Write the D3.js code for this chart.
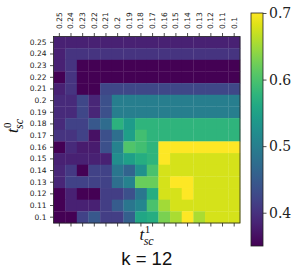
<!DOCTYPE html>
<html>
<head>
<meta charset="utf-8">
<script src="https://cdn.jsdelivr.net/npm/d3@7"></script>
<style>
body { margin: 0; background: #fff; }
svg { display: block; }
</style>
</head>
<body>
<svg id="chart" width="299" height="275"></svg>
<script>
// t1 (columns, left -> right) and t0 (rows, top -> bottom)
var t1Labels = ["0.25", "0.24", "0.23", "0.22", "0.21", "0.2", "0.19", "0.18",
                "0.17", "0.16", "0.15", "0.14", "0.13", "0.12", "0.11", "0.1"];
var t0Labels = ["0.25", "0.24", "0.23", "0.22", "0.21", "0.2", "0.19", "0.18",
                "0.17", "0.16", "0.15", "0.14", "0.13", "0.12", "0.11", "0.1"];

// score per cell, one row per t0 value
var scores = [
    [0.382, 0.382, 0.382, 0.382, 0.382, 0.382, 0.382, 0.382, 0.382, 0.382, 0.382, 0.382, 0.382, 0.382, 0.382, 0.382],
    [0.382, 0.403, 0.403, 0.403, 0.403, 0.403, 0.403, 0.403, 0.403, 0.403, 0.403, 0.403, 0.403, 0.403, 0.403, 0.403],
    [0.382, 0.403, 0.35, 0.35, 0.35, 0.35, 0.35, 0.35, 0.35, 0.35, 0.35, 0.35, 0.35, 0.35, 0.35, 0.35],
    [0.35, 0.403, 0.35, 0.35, 0.35, 0.35, 0.35, 0.35, 0.35, 0.35, 0.35, 0.35, 0.35, 0.35, 0.35, 0.35],
    [0.382, 0.403, 0.35, 0.35, 0.424, 0.424, 0.424, 0.424, 0.424, 0.424, 0.424, 0.424, 0.424, 0.424, 0.424, 0.424],
    [0.392, 0.392, 0.424, 0.387, 0.435, 0.498, 0.498, 0.498, 0.498, 0.498, 0.498, 0.498, 0.498, 0.498, 0.498, 0.498],
    [0.392, 0.392, 0.424, 0.387, 0.435, 0.498, 0.498, 0.498, 0.498, 0.498, 0.498, 0.498, 0.498, 0.498, 0.498, 0.498],
    [0.392, 0.419, 0.419, 0.445, 0.472, 0.573, 0.541, 0.578, 0.578, 0.578, 0.578, 0.578, 0.578, 0.578, 0.578, 0.578],
    [0.403, 0.403, 0.419, 0.366, 0.435, 0.477, 0.546, 0.594, 0.578, 0.578, 0.578, 0.578, 0.578, 0.578, 0.578, 0.578],
    [0.35, 0.392, 0.377, 0.377, 0.435, 0.504, 0.604, 0.594, 0.578, 0.70, 0.70, 0.70, 0.70, 0.70, 0.70, 0.70],
    [0.382, 0.382, 0.382, 0.382, 0.382, 0.52, 0.546, 0.567, 0.578, 0.70, 0.677, 0.677, 0.677, 0.677, 0.677, 0.677],
    [0.387, 0.408, 0.35, 0.419, 0.419, 0.488, 0.461, 0.525, 0.599, 0.677, 0.677, 0.677, 0.677, 0.677, 0.677, 0.677],
    [0.387, 0.419, 0.419, 0.419, 0.419, 0.477, 0.504, 0.62, 0.62, 0.677, 0.70, 0.70, 0.677, 0.677, 0.677, 0.677],
    [0.35, 0.382, 0.35, 0.35, 0.414, 0.414, 0.435, 0.488, 0.567, 0.677, 0.677, 0.70, 0.677, 0.677, 0.677, 0.677],
    [0.35, 0.382, 0.382, 0.382, 0.414, 0.451, 0.488, 0.509, 0.599, 0.651, 0.677, 0.677, 0.677, 0.677, 0.677, 0.677],
    [0.35, 0.35, 0.419, 0.445, 0.414, 0.414, 0.456, 0.557, 0.567, 0.63, 0.655, 0.70, 0.655, 0.677, 0.677, 0.677]
];

var colorTicks = [0.4, 0.5, 0.6, 0.7];
var colorRange = [0.35, 0.70];
var title = "k = 12";

var svg = d3.select('#chart');

var plotLeft = 53.5, plotRight = 240, plotTop = 36.5, plotBottom = 223,
    cbLeft = 251, cbWidth = 12, cbTop = 13, cbBottom = 246,
    tickFont = '7.5px "DejaVu Sans", sans-serif';

var xScale = d3.scaleBand().domain(t1Labels).range([plotLeft, plotRight]);
var yScale = d3.scaleBand().domain(t0Labels).range([plotTop, plotBottom]);
var color = d3.scaleSequential(d3.interpolateViridis).domain(colorRange);

// cells
var cells = [];
scores.forEach(function (row, i) {
    row.forEach(function (v, j) {
        cells.push({row: t0Labels[i], col: t1Labels[j], value: v});
    });
});

svg.append('g').selectAll('rect').data(cells).enter().append('rect')
    .attr('x', function (d) { return xScale(d.col); })
    .attr('y', function (d) { return yScale(d.row); })
    .attr('width', xScale.bandwidth() + 0.3)
    .attr('height', yScale.bandwidth() + 0.3)
    .attr('fill', function (d) { return color(d.value); });

// frame
svg.append('rect')
    .attr('x', plotLeft).attr('y', plotTop)
    .attr('width', plotRight - plotLeft).attr('height', plotBottom - plotTop)
    .attr('fill', 'none').attr('stroke', '#222').attr('stroke-width', 0.8);

function styleAxis(g) {
    g.select('.domain').remove();
    g.selectAll('line').attr('stroke', '#222').attr('stroke-width', 0.8);
    g.selectAll('text').style('font', tickFont).attr('fill', '#222');
}

// top axis with rotated labels
var xTop = svg.append('g')
    .attr('transform', 'translate(0,' + plotTop + ')')
    .call(d3.axisTop(xScale).tickSize(3.5).tickPadding(3.5));
styleAxis(xTop);
xTop.selectAll('text')
    .attr('text-anchor', 'start')
    .attr('dy', '0.32em')
    .attr('y', 0)
    .attr('transform', 'translate(0,-7.5) rotate(-90)');

// bottom ticks, no labels
var xBottom = svg.append('g')
    .attr('transform', 'translate(0,' + plotBottom + ')')
    .call(d3.axisBottom(xScale).tickSize(3.5).tickFormat(''));
styleAxis(xBottom);

// left axis
var yLeft = svg.append('g')
    .attr('transform', 'translate(' + plotLeft + ',0)')
    .call(d3.axisLeft(yScale).tickSize(3.5).tickPadding(3.5));
styleAxis(yLeft);

// math style axis label: base with superscript and subscript
function mathLabel(g, base, sup, sub) {
    var b = g.append('text').text(base)
        .style('font', 'italic 17px "Liberation Serif", serif');
    var bw = b.node().getComputedTextLength();
    var p = g.append('text').text(sup).attr('x', bw + 0.5).attr('y', -7)
        .style('font', '11px "Liberation Serif", serif');
    var s = g.append('text').text(sub).attr('x', bw - 0.5).attr('y', 4.5)
        .style('font', 'italic 12px "Liberation Serif", serif');
    var w = bw + Math.max(p.node().getComputedTextLength(), s.node().getComputedTextLength());
    g.selectAll('text').attr('dx', -w / 2).attr('fill', '#111');
}

mathLabel(svg.append('g').attr('transform', 'translate(' + ((plotLeft + plotRight) / 2) + ',240)'),
    't', '1', 'sc');
mathLabel(svg.append('g').attr('transform', 'translate(18,' + ((plotTop + plotBottom) / 2 - 4) + ') rotate(-90)'),
    't', '0', 'sc');

// title
svg.append('text')
    .attr('x', (plotLeft + plotRight) / 2).attr('y', 265)
    .attr('text-anchor', 'middle')
    .style('font', '18.5px "Liberation Sans", sans-serif')
    .attr('fill', '#111')
    .text(title);

// colorbar
var cbScale = d3.scaleLinear().domain(colorRange).range([cbBottom, cbTop]);
var grad = svg.append('defs').append('linearGradient')
    .attr('id', 'cbgrad').attr('x1', 0).attr('y1', 1).attr('x2', 0).attr('y2', 0);
grad.selectAll('stop').data(d3.range(0, 1.0001, 0.05)).enter().append('stop')
    .attr('offset', function (d) { return d; })
    .attr('stop-color', function (d) { return color(colorRange[0] + d * (colorRange[1] - colorRange[0])); });

svg.append('rect')
    .attr('x', cbLeft).attr('y', cbTop)
    .attr('width', cbWidth).attr('height', cbBottom - cbTop)
    .attr('fill', 'url(#cbgrad)')
    .attr('stroke', '#222').attr('stroke-width', 0.8);

var cbAxis = svg.append('g')
    .attr('transform', 'translate(' + (cbLeft + cbWidth) + ',0)')
    .call(d3.axisRight(cbScale).tickValues(colorTicks).tickSize(3.5).tickPadding(2.5)
        .tickFormat(d3.format('.1f')));
cbAxis.select('.domain').remove();
cbAxis.selectAll('line').attr('stroke', '#222').attr('stroke-width', 0.8);
cbAxis.selectAll('text').style('font', '14px "DejaVu Serif", serif').attr('fill', '#222');
</script>
</body>
</html>
